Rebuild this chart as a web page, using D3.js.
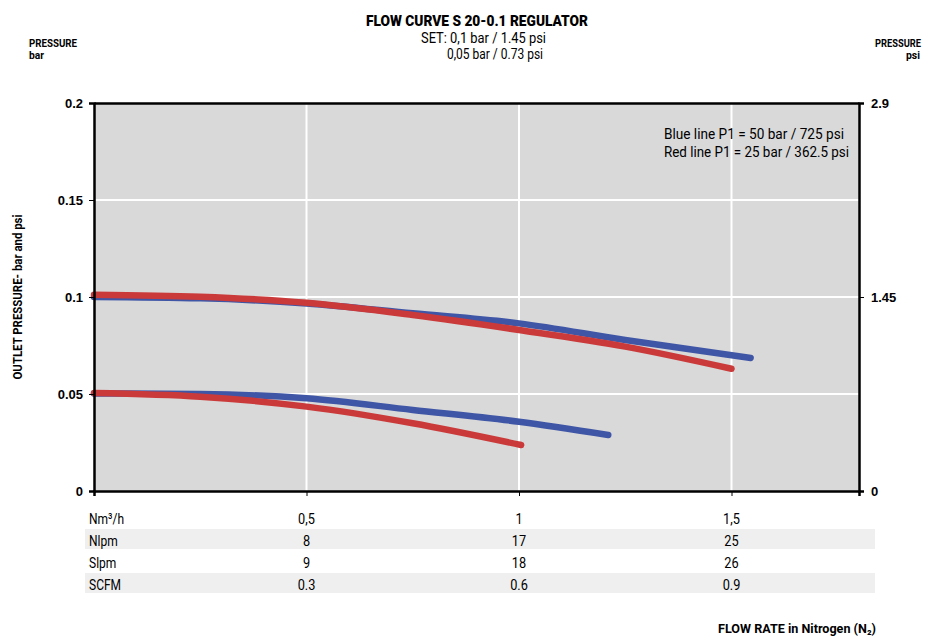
<!DOCTYPE html>
<html>
<head>
<meta charset="utf-8">
<script src="https://cdn.jsdelivr.net/npm/d3@7"></script>
<style>
  html, body { margin: 0; padding: 0; background: #fff; }
  svg { display: block; }
  .cond { font-family: Roboto, "Liberation Sans", sans-serif; fill: #000; }
  .tick-lbl { font-family: "Liberation Sans", Arial, sans-serif; font-weight: bold; font-size: 13px; }
</style>
</head>
<body>
<svg id="chart" width="928" height="639"></svg>
<script>
// Flow (Nm3/h) and outlet pressure (bar) for each curve
const blueHighFlow = [0, 0.25, 0.5, 0.75, 1.0, 1.25, 1.545];
const blueHighP    = [0.1, 0.0993, 0.0967, 0.0916, 0.0864, 0.0778, 0.0686];
const redHighFlow  = [0, 0.25, 0.5, 0.75, 1.0, 1.25, 1.5];
const redHighP     = [0.1012, 0.1001, 0.097, 0.0907, 0.083, 0.0744, 0.063];
const blueLowFlow  = [0, 0.25, 0.5, 0.75, 1.0, 1.21];
const blueLowP     = [0.0503, 0.05, 0.0478, 0.0418, 0.0357, 0.0289];
const redLowFlow   = [0, 0.25, 0.5, 0.75, 1.005];
const redLowP      = [0.0505, 0.0486, 0.0435, 0.0349, 0.0237];

// Axis ticks
const barTicks = [0, 0.05, 0.1, 0.15, 0.2];
const psiTicks = [0, 1.45, 2.9];
const flowTicks = [0.5, 1, 1.5];

// Conversion table below the chart
const tableRows = ["Nm³/h", "Nlpm", "Slpm", "SCFM"];
const tableValues = [
  ["0,5", "1", "1,5"],
  ["8", "17", "25"],
  ["9", "18", "26"],
  ["0.3", "0.6", "0.9"]
];

const svg = d3.select("#chart");
const pL = 94, pR = 859, pT = 103, pB = 491;

const x = d3.scaleLinear().domain([0, 1.8]).range([pL, pR]);
const y = d3.scaleLinear().domain([0, 0.2]).range([pB, pT]);
const yPsi = d3.scaleLinear().domain([0, 2.9]).range([pB, pT]);

// Narrow the text to a given width (condensed face look)
function fit(sel, w) {
  return sel.attr("textLength", w).attr("lengthAdjust", "spacingAndGlyphs");
}
function squeeze(sel, k) {
  const w = sel.node().getComputedTextLength();
  return fit(sel, w * k);
}
function label(px, py, txt, size, weight, anchor) {
  return svg.append("text").attr("class", "cond").attr("x", px).attr("y", py)
    .attr("font-size", size).attr("font-weight", weight || "normal")
    .attr("text-anchor", anchor || "start").text(txt);
}

// Plot background
svg.append("rect").attr("x", pL).attr("y", pT)
  .attr("width", pR - pL).attr("height", pB - pT)
  .attr("fill", "#d9d9d9");

// Grid
svg.append("g").selectAll("line").data(barTicks.filter(d => d > 0 && d < 0.2)).join("line")
  .attr("x1", pL).attr("x2", pR).attr("y1", d => y(d)).attr("y2", d => y(d))
  .attr("stroke", "#fff").attr("stroke-width", 2);
svg.append("g").selectAll("line").data(flowTicks).join("line")
  .attr("x1", d => x(d)).attr("x2", d => x(d)).attr("y1", pT).attr("y2", pB)
  .attr("stroke", "#fff").attr("stroke-width", 2);

// Curves
const line = d3.line().x(d => x(d[0])).y(d => y(d[1])).curve(d3.curveMonotoneX);
const series = [
  { f: blueHighFlow, p: blueHighP, c: "#3f56a6" },
  { f: blueLowFlow, p: blueLowP, c: "#3f56a6" },
  { f: redHighFlow, p: redHighP, c: "#cb3a3a" },
  { f: redLowFlow, p: redLowP, c: "#cb3a3a" }
];
svg.append("g").selectAll("path").data(series).join("path")
  .attr("d", s => line(s.f.map((v, i) => [v, s.p[i]])))
  .attr("fill", "none").attr("stroke", s => s.c)
  .attr("stroke-width", 6.5).attr("stroke-linecap", "round");

// Axes
const axL = d3.axisLeft(y).tickValues(barTicks).tickSize(5).tickFormat(d => d === 0 ? "0" : String(d));
const gL = svg.append("g").attr("transform", `translate(${pL},0)`).call(axL);
const axR = d3.axisRight(yPsi).tickValues(psiTicks).tickSize(5).tickFormat(d => d === 0 ? "0" : String(d));
const gR = svg.append("g").attr("transform", `translate(${pR},0)`).call(axR);
const axB = d3.axisBottom(x).tickValues([0, ...flowTicks]).tickSize(5).tickFormat("");
const gB = svg.append("g").attr("transform", `translate(0,${pB})`).call(axB);
const axT = d3.axisTop(x).tickValues([]).tickSize(0);
const gT = svg.append("g").attr("transform", `translate(0,${pT})`).call(axT);
[gL, gR, gB, gT].forEach(g => {
  g.select(".domain").attr("stroke", "#000").attr("stroke-width", 2.5);
  g.selectAll(".tick line").attr("stroke", "#000").attr("stroke-width", 1);
  g.selectAll(".tick text").attr("class", "tick-lbl").attr("fill", "#000");
});
gL.selectAll(".tick text").attr("x", -11);
gR.selectAll(".tick text").attr("x", 12);

// Titles
fit(label(477, 26, "FLOW CURVE S 20-0.1 REGULATOR", 15.5, 900, "middle"), 222);
fit(label(483.5, 43, "SET: 0,1 bar / 1.45 psi", 14, "normal", "middle"), 125);
fit(label(495, 58.5, "0,05 bar / 0.73 psi", 14, "normal", "middle"), 96);

// Unit captions above the two pressure axes
fit(label(29, 47, "PRESSURE", 11, "bold"), 48);
fit(label(29, 59, "bar", 11, "bold"), 15);
fit(label(875, 47, "PRESSURE", 11, "bold"), 46);
fit(label(906, 59, "psi", 11, "bold"), 14);

fit(svg.append("text").attr("class", "cond")
  .attr("transform", `translate(22,${(pT + pB) / 2}) rotate(-90)`)
  .attr("text-anchor", "middle").attr("font-weight", "bold").attr("font-size", 13)
  .text("OUTLET PRESSURE- bar and psi"), 165);

// Legend notes
fit(label(664, 139, "Blue line P1 = 50 bar / 725 psi", 15), 180);
fit(label(664, 157, "Red line P1 = 25 bar / 362.5 psi", 15), 185);

// Table
const rowTop = 508, rowH = 22;
const tg = svg.append("g");
tableRows.forEach((r, i) => {
  const yy = rowTop + i * rowH;
  if (i % 2 === 1) {
    tg.append("rect").attr("x", 85).attr("y", yy - 1).attr("width", 790).attr("height", rowH - 2)
      .attr("fill", "#efefef");
  }
});
tableRows.forEach((r, i) => {
  const yy = rowTop + i * rowH;
  squeeze(tg.append("text").attr("class", "cond").attr("x", 89).attr("y", yy + 16)
    .attr("font-size", 15).text(r), 0.8);
  tableValues[i].forEach((v, j) => {
    const t = tg.append("text").attr("class", "cond").attr("x", x(flowTicks[j])).attr("y", yy + 16)
      .attr("text-anchor", "middle").attr("font-size", 15).text(v);
    squeeze(t, 0.85);
  });
});

fit(label(718, 633, "FLOW RATE in Nitrogen (N₂)", 13, "bold"), 158);
</script>
</body>
</html>
